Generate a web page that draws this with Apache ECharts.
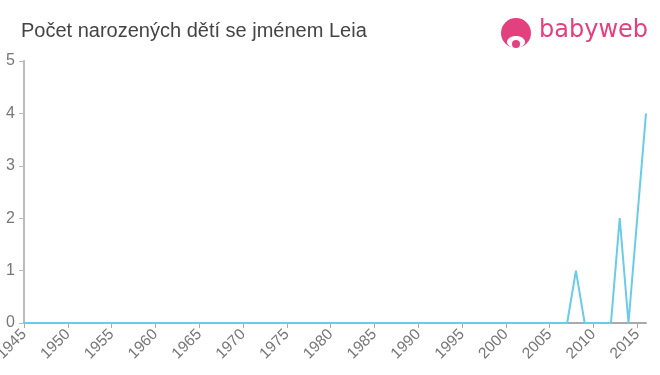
<!DOCTYPE html>
<html><head><meta charset="utf-8">
<script src="https://cdn.jsdelivr.net/npm/echarts@6/dist/echarts.min.js"></script>
<style>html,body{margin:0;padding:0;background:#fff}#c{width:660px;height:375px}</style>
</head><body><div id="c"></div>
<script>
const title = "Počet narozených dětí se jménem Leia";
const years = [];
for (let y = 1945; y <= 2016; y++) years.push(String(y));
// non-zero counts; all other years are 0
const nonZeroYears = ["2008", "2013", "2015", "2016"];
const nonZeroValues = [1, 2, 2, 4];
const counts = years.map(y => {
  const i = nonZeroYears.indexOf(y);
  return i >= 0 ? nonZeroValues[i] : 0;
});
const yTicks = [0, 1, 2, 3, 4, 5];

const pink = '#e2407f';
const chart = echarts.init(document.getElementById('c'));
chart.setOption({
  animation: false,
  title: {
    text: title, left: 16, top: 16,
    textStyle: { fontFamily: 'Liberation Sans, Arial, sans-serif', fontSize: 20, fontWeight: 'normal', color: '#444' }
  },
  graphic: [
    { type: 'circle', shape: { cx: 516, cy: 33, r: 15 }, style: { fill: pink } },
    { type: 'ellipse', shape: { cx: 516, cy: 42, rx: 9, ry: 6 }, style: { fill: '#fff' } },
    { type: 'circle', shape: { cx: 516, cy: 44, r: 4 }, style: { fill: pink } },
    { type: 'text', left: 539, top: 19, style: { text: 'babyweb', fill: pink, font: '24px "DejaVu Sans", sans-serif' } }
  ],
  grid: { left: 24, right: 14, top: 61, bottom: 52, outerBoundsMode: 'none', containLabel: false },
  xAxis: {
    type: 'category', data: years, boundaryGap: false,
    axisLine: { lineStyle: { color: '#aaa', width: 2 } },
    axisTick: { interval: 4, length: 5, lineStyle: { color: '#aaa' } },
    axisLabel: { interval: 4, rotate: 45, color: '#777', fontSize: 15.5, fontFamily: 'Liberation Sans, Arial, sans-serif', margin: 9 },
    splitLine: { show: false }
  },
  yAxis: {
    type: 'value', min: yTicks[0], max: yTicks[yTicks.length - 1], interval: 1,
    axisLine: { show: true, lineStyle: { color: '#bbb', width: 2 } },
    axisTick: { show: true, length: 5, lineStyle: { color: '#bbb' } },
    axisLabel: { color: '#777', fontSize: 16, fontFamily: 'Liberation Sans, Arial, sans-serif', margin: 9 },
    splitLine: { show: false }
  },
  series: [{
    type: 'line', data: counts, showSymbol: false, symbol: 'none',
    lineStyle: { color: '#6ccbe8', width: 2 }
  }]
});
</script></body></html>
